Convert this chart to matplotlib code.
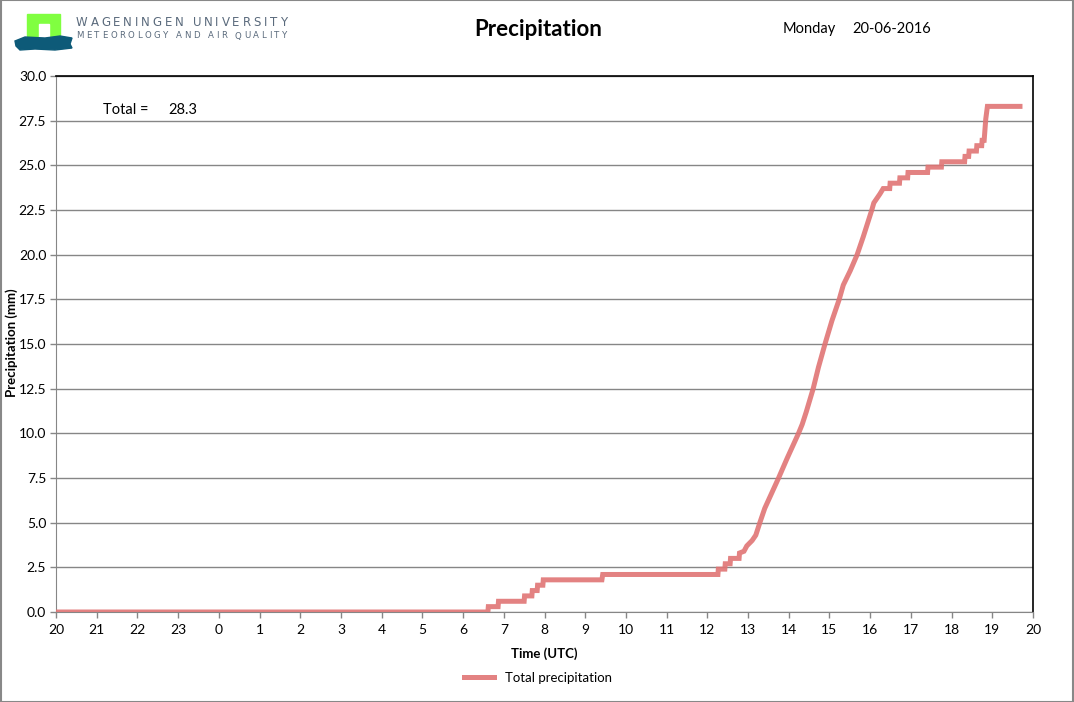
import numpy as np
import matplotlib
matplotlib.use("Agg")
import matplotlib.pyplot as plt
from matplotlib.patches import Rectangle, Polygon

plt.rcParams['font.family'] = ['Lato', 'DejaVu Sans']

# hours relative to 00 UTC on 20-06-2016 (negative = previous evening)
time_utc = [-4.0, 6.61, 6.62, 6.86, 6.87, 7.50, 7.51, 7.69, 7.70, 7.82, 7.83,
            7.96, 7.97, 9.41, 9.43, 12.26, 12.27, 12.43, 12.44, 12.56, 12.57,
            12.78, 12.79, 12.90, 12.97, 13.10, 13.19, 13.29, 13.41, 13.59,
            13.75, 13.96, 14.12, 14.24, 14.33, 14.43, 14.60, 14.73, 14.89,
            15.06, 15.24, 15.34, 15.51, 15.68, 15.83, 16.04, 16.09, 16.24,
            16.32, 16.48, 16.49, 16.72, 16.73, 16.92, 16.93, 17.41, 17.42,
            17.75, 17.76, 18.32, 18.33, 18.42, 18.43, 18.61, 18.62, 18.74,
            18.75, 18.80, 18.84, 18.88, 19.68]
total_mm = [0.0, 0.0, 0.3, 0.3, 0.6, 0.6, 0.9, 0.9, 1.2, 1.2, 1.5,
            1.5, 1.8, 1.8, 2.1, 2.1, 2.4, 2.4, 2.7, 2.7, 3.0,
            3.0, 3.3, 3.4, 3.7, 4.0, 4.3, 5.0, 5.8, 6.7,
            7.5, 8.6, 9.4, 10.0, 10.5, 11.2, 12.5, 13.7, 15.0,
            16.3, 17.5, 18.3, 19.1, 20.0, 21.0, 22.5, 22.9, 23.4,
            23.7, 23.7, 24.0, 24.0, 24.3, 24.3, 24.6, 24.6, 24.9,
            24.9, 25.2, 25.2, 25.5, 25.5, 25.8, 25.8, 26.1, 26.1,
            26.4, 26.4, 27.6, 28.3, 28.3]

hour_ticks = list(range(-4, 21))
hour_labels = [str(h % 24) for h in hour_ticks]
y_ticks = np.arange(0, 30.1, 2.5)

title = "Precipitation"
day_name = "Monday"
date_str = "20-06-2016"
total_value = 28.3

W, H = 1074, 702
fig = plt.figure(figsize=(W / 100, H / 100), dpi=100)
ax = fig.add_axes([56 / W, 1 - 612 / H, (1033 - 56) / W, (612 - 76) / H])

grid_col = "#868686"
ax.plot(time_utc, total_mm, color="#e07474", lw=3.6, alpha=0.9,
        solid_joinstyle="miter", label="Total precipitation", zorder=3)

ax.set_xlim(-4, 20)
ax.set_ylim(0, 30)
ax.set_xticks(hour_ticks)
ax.set_xticklabels(hour_labels)
ax.set_yticks(y_ticks)
ax.set_yticklabels(["%.1f" % v for v in y_ticks])
ax.yaxis.grid(True, color=grid_col, lw=1)
ax.set_axisbelow(True)
ax.tick_params(axis="both", direction="out", length=4, width=1,
               color=grid_col, labelsize=10, pad=3)
ax.tick_params(axis="x", pad=5)
for s in ["left", "bottom"]:
    ax.spines[s].set_color(grid_col)
for s in ["top", "right"]:
    ax.spines[s].set_color("black")
    ax.spines[s].set_linewidth(1.2)

ax.set_xlabel("Time (UTC)", fontsize=9.5, fontweight="bold", labelpad=8)
fig.text(12 / W, 1 - 343 / H, "Precipitation (mm)", fontsize=9.5,
         fontweight="bold", rotation=90, ha="center", va="center")

fig.text(103 / W, 1 - 110 / H, "Total =", fontsize=10.5, va="center")
fig.text(168 / W, 1 - 110 / H, "%.1f" % total_value, fontsize=10.5, va="center")

fig.text(538 / W, 1 - 29 / H, title, fontsize=16, fontweight="bold",
         ha="center", va="center")
fig.text(783 / W, 1 - 29 / H, day_name, fontsize=10.5, va="center")
fig.text(852 / W, 1 - 29 / H, date_str, fontsize=10.5, va="center")

leg = fig.legend(loc="center", bbox_to_anchor=(538 / W, 1 - 678 / H),
                 frameon=False, fontsize=9.5, handlelength=2.3)

# logo
green = "#80ff40"
fig.patches.append(Rectangle((27 / W, 1 - 39 / H), 33 / W, 25 / H,
                             transform=fig.transFigure, color=green))
fig.patches.append(Rectangle((39 / W, 1 - 39 / H), 10 / W, 15 / H,
                             transform=fig.transFigure, color="white"))
wave = [(15, 41), (25, 37), (45, 38), (60, 36), (72, 38), (70, 44), (72, 48),
        (55, 50), (35, 49), (20, 50), (16, 46)]
fig.patches.append(Polygon([(x / W, 1 - y / H) for x, y in wave], closed=True,
                           transform=fig.transFigure, color="#0d5a78"))

renderer = fig.canvas.get_renderer()


def spaced(text, x0, x1, y0, size):
    # letter-spaced text stretched from x0 to x1 (pixels)
    parts = [fig.text(0, 1 - y0 / H, ch, fontsize=size, color="#5a6a7c",
                      va="center", family="DejaVu Sans") for ch in text]
    widths = [t.get_window_extent(renderer).width if ch != " " else size * 0.4
              for t, ch in zip(parts, text)]
    gap = (x1 - x0 - sum(widths)) / (len(text) - 1)
    x = x0
    for t, w in zip(parts, widths):
        t.set_x(x / W)
        x += w + gap


spaced("WAGENINGEN UNIVERSITY", 76, 287, 23, 8.5)
spaced("METEOROLOGY AND AIR QUALITY", 76, 287, 36, 6.2)

fig.patches.append(Rectangle((0.0005, 0.0005), 0.999, 0.999,
                             transform=fig.transFigure, fill=False,
                             edgecolor="#888888", lw=1.5))

fig.savefig("out.png", dpi=100)
